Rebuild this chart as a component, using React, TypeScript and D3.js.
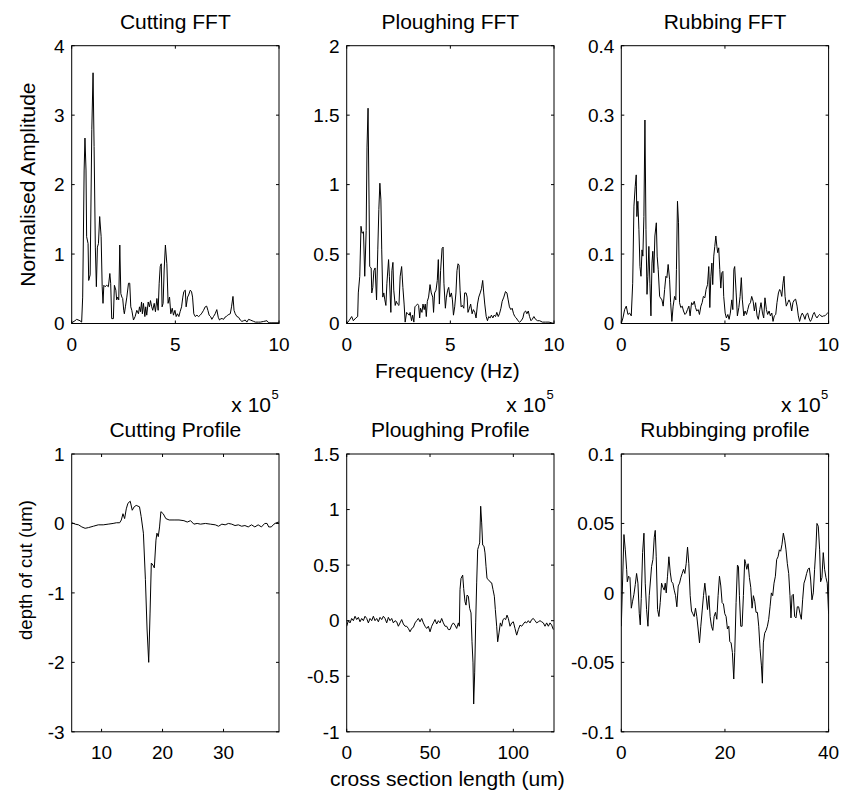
import React from 'react';
import * as d3 from 'd3';

type Pt = [number, number];

// ---------- data ----------
const cuttingFft: Pt[] = [
  [0.00,0.01],[0.16,0.04],[0.24,0.06],[0.40,0.04],[0.48,0.02],[0.53,0.38],[0.60,2.21],[0.64,2.67],[0.69,2.21],[0.72,1.25],
  [0.79,1.15],[0.82,0.62],[0.89,0.70],[0.97,2.79],[1.03,3.61],[1.08,2.55],[1.14,1.10],[1.19,0.53],[1.24,1.10],[1.29,1.15],
  [1.35,1.54],[1.42,1.25],[1.47,0.53],[1.51,0.29],[1.55,0.55],[1.61,0.53],[1.69,0.55],[1.77,0.53],[1.84,0.72],[1.88,0.58],
  [1.93,0.07],[2.01,0.07],[2.06,0.55],[2.13,0.48],[2.17,0.34],[2.22,0.38],[2.27,0.34],[2.32,1.13],[2.37,0.43],[2.42,0.38],
  [2.46,0.36],[2.51,0.19],[2.54,0.14],[2.59,0.24],[2.66,0.38],[2.74,0.58],[2.80,0.58],[2.85,0.24],[2.90,0.19],[2.98,0.05],
  [3.06,0.10],[3.14,0.19],[3.22,0.14],[3.27,0.24],[3.32,0.17],[3.37,0.31],[3.41,0.14],[3.46,0.29],[3.53,0.10],[3.57,0.24],
  [3.62,0.12],[3.69,0.31],[3.75,0.24],[3.80,0.33],[3.86,0.24],[3.91,0.19],[3.98,0.29],[4.04,0.17],[4.11,0.36],[4.17,0.19],
  [4.22,0.58],[4.27,0.82],[4.32,0.86],[4.36,0.24],[4.41,0.29],[4.46,0.77],[4.52,1.13],[4.59,0.86],[4.65,0.29],[4.72,0.38],
  [4.78,0.14],[4.85,0.22],[4.91,0.12],[4.98,0.19],[5.04,0.10],[5.10,0.14],[5.17,0.10],[5.23,0.17],[5.30,0.24],[5.36,0.38],
  [5.41,0.46],[5.48,0.48],[5.52,0.24],[5.59,0.38],[5.64,0.41],[5.72,0.48],[5.78,0.46],[5.83,0.38],[5.89,0.14],[5.96,0.10],
  [6.04,0.12],[6.12,0.10],[6.20,0.12],[6.28,0.15],[6.36,0.19],[6.44,0.24],[6.51,0.25],[6.57,0.19],[6.63,0.12],[6.70,0.10],
  [6.76,0.06],[6.84,0.10],[6.92,0.14],[7.00,0.20],[7.07,0.09],[7.13,0.05],[7.20,0.07],[7.26,0.07],[7.33,0.06],[7.39,0.09],
  [7.46,0.10],[7.52,0.12],[7.58,0.13],[7.65,0.14],[7.71,0.24],[7.78,0.39],[7.83,0.19],[7.89,0.14],[7.97,0.10],[8.05,0.09],
  [8.13,0.05],[8.21,0.03],[8.29,0.04],[8.37,0.05],[8.45,0.02],[8.53,0.06],[8.62,0.05],[8.70,0.04],[8.78,0.03],[8.86,0.02],
  [8.94,0.02],[9.02,0.02],[9.10,0.02],[9.26,0.03],[9.42,0.04],[9.50,0.01],[9.66,0.01],[10.0,0.01],
];

const ploughingFft: Pt[] = [
  [0.00,0.00],[0.11,0.02],[0.24,0.05],[0.32,0.02],[0.44,0.04],[0.53,0.05],[0.56,0.22],[0.63,0.34],[0.69,0.70],[0.74,0.65],
  [0.81,0.66],[0.87,0.34],[0.94,0.67],[0.98,1.27],[1.03,1.55],[1.08,0.86],[1.11,0.41],[1.18,0.40],[1.21,0.22],[1.26,0.26],
  [1.31,0.38],[1.37,0.40],[1.44,0.17],[1.50,0.53],[1.55,0.82],[1.60,1.01],[1.65,0.89],[1.69,0.53],[1.74,0.19],[1.79,0.22],
  [1.84,0.17],[1.89,0.13],[1.94,0.29],[2.02,0.46],[2.06,0.34],[2.13,0.08],[2.18,0.38],[2.23,0.44],[2.27,0.24],[2.34,0.13],
  [2.39,0.16],[2.45,0.14],[2.52,0.13],[2.58,0.34],[2.65,0.41],[2.71,0.26],[2.77,0.14],[2.82,0.01],[2.89,0.08],[2.95,0.07],
  [3.02,0.06],[3.06,0.08],[3.13,0.02],[3.18,0.06],[3.24,0.01],[3.29,0.12],[3.35,0.13],[3.42,0.14],[3.47,0.13],[3.52,0.04],
  [3.56,0.11],[3.63,0.08],[3.68,0.14],[3.74,0.10],[3.79,0.14],[3.84,0.05],[3.89,0.16],[3.95,0.19],[4.02,0.28],[4.08,0.22],
  [4.15,0.19],[4.19,0.08],[4.24,0.22],[4.31,0.24],[4.37,0.31],[4.42,0.46],[4.47,0.14],[4.53,0.38],[4.60,0.54],[4.65,0.55],
  [4.69,0.29],[4.76,0.11],[4.81,0.19],[4.87,0.24],[4.92,0.26],[4.98,0.19],[5.05,0.22],[5.10,0.17],[5.15,0.06],[5.21,0.12],
  [5.27,0.22],[5.32,0.38],[5.37,0.43],[5.42,0.42],[5.47,0.24],[5.52,0.12],[5.58,0.13],[5.65,0.11],[5.69,0.22],[5.76,0.22],
  [5.81,0.19],[5.85,0.08],[5.92,0.11],[5.98,0.14],[6.05,0.07],[6.11,0.10],[6.18,0.08],[6.24,0.04],[6.31,0.14],[6.37,0.19],
  [6.44,0.22],[6.50,0.25],[6.56,0.31],[6.61,0.22],[6.66,0.14],[6.73,0.05],[6.79,0.02],[6.85,0.05],[6.92,0.04],[6.98,0.06],
  [7.05,0.04],[7.11,0.06],[7.18,0.05],[7.24,0.08],[7.31,0.05],[7.37,0.07],[7.44,0.11],[7.50,0.16],[7.58,0.19],[7.66,0.23],
  [7.73,0.22],[7.79,0.17],[7.85,0.12],[7.92,0.10],[7.98,0.11],[8.05,0.07],[8.11,0.05],[8.18,0.04],[8.26,0.02],[8.34,0.01],
  [8.42,0.02],[8.50,0.04],[8.56,0.08],[8.63,0.09],[8.69,0.07],[8.76,0.09],[8.82,0.05],[8.89,0.02],[8.95,0.03],[9.03,0.05],
  [9.11,0.03],[9.21,0.02],[9.31,0.02],[9.44,0.01],[9.60,0.01],[9.76,0.01],[10.0,0.00],
];

const rubbingFft: Pt[] = [
  [0.00,0.000],[0.08,0.008],[0.16,0.020],[0.24,0.025],[0.32,0.013],[0.40,0.015],[0.48,0.011],[0.55,0.058],[0.61,0.169],[0.67,0.197],
  [0.72,0.214],[0.75,0.154],[0.80,0.176],[0.85,0.135],[0.90,0.082],[0.95,0.068],[1.00,0.106],[1.04,0.097],[1.09,0.154],[1.14,0.293],
  [1.19,0.135],[1.24,0.042],[1.28,0.068],[1.33,0.111],[1.38,0.058],[1.43,0.011],[1.48,0.087],[1.52,0.104],[1.57,0.073],[1.62,0.126],
  [1.69,0.145],[1.73,0.097],[1.78,0.078],[1.85,0.039],[1.89,0.037],[1.96,0.034],[2.02,0.025],[2.09,0.049],[2.15,0.068],[2.20,0.066],
  [2.26,0.085],[2.33,0.063],[2.38,0.030],[2.44,0.003],[2.50,0.025],[2.57,0.039],[2.63,0.034],[2.66,0.078],[2.71,0.176],[2.76,0.145],
  [2.81,0.030],[2.87,0.023],[2.94,0.025],[3.00,0.018],[3.07,0.013],[3.13,0.015],[3.19,0.020],[3.26,0.025],[3.32,0.011],[3.39,0.030],
  [3.45,0.027],[3.52,0.032],[3.58,0.023],[3.64,0.018],[3.71,0.020],[3.77,0.013],[3.84,0.025],[3.90,0.030],[3.96,0.039],[4.03,0.037],
  [4.09,0.049],[4.16,0.056],[4.22,0.082],[4.27,0.023],[4.32,0.068],[4.37,0.087],[4.41,0.056],[4.46,0.097],[4.51,0.111],[4.56,0.126],
  [4.61,0.111],[4.65,0.102],[4.70,0.109],[4.75,0.078],[4.80,0.051],[4.85,0.073],[4.90,0.075],[4.94,0.039],[5.01,0.015],[5.07,0.008],
  [5.14,0.013],[5.20,0.006],[5.26,0.015],[5.33,0.034],[5.38,0.020],[5.43,0.078],[5.47,0.082],[5.54,0.044],[5.60,0.011],[5.67,0.023],
  [5.73,0.039],[5.79,0.066],[5.84,0.034],[5.91,0.011],[5.97,0.018],[6.04,0.013],[6.10,0.020],[6.16,0.027],[6.23,0.030],[6.29,0.039],
  [6.36,0.032],[6.42,0.018],[6.48,0.030],[6.55,0.011],[6.61,0.006],[6.68,0.020],[6.74,0.030],[6.81,0.015],[6.87,0.008],[6.93,0.037],
  [7.00,0.020],[7.06,0.013],[7.13,0.018],[7.19,0.011],[7.26,0.015],[7.32,0.003],[7.38,0.011],[7.45,0.013],[7.51,0.030],[7.58,0.044],
  [7.64,0.049],[7.69,0.046],[7.74,0.039],[7.80,0.058],[7.85,0.068],[7.90,0.039],[7.96,0.025],[8.03,0.030],[8.09,0.034],[8.15,0.030],
  [8.22,0.018],[8.28,0.030],[8.35,0.034],[8.41,0.035],[8.48,0.025],[8.54,0.011],[8.60,0.003],[8.67,0.011],[8.73,0.015],[8.80,0.011],
  [8.86,0.006],[8.92,0.013],[8.99,0.015],[9.05,0.008],[9.12,0.003],[9.18,0.006],[9.25,0.013],[9.31,0.016],[9.37,0.011],[9.44,0.008],
  [9.50,0.011],[9.57,0.013],[9.63,0.011],[9.69,0.010],[9.76,0.011],[9.82,0.011],[9.88,0.013],[9.95,0.015],[10.0,0.015],
];

const cuttingProfile: Pt[] = [
  [5.14,0.01],[5.68,-0.01],[6.22,-0.02],[6.76,-0.05],[7.30,-0.07],[7.84,-0.06],[8.65,-0.04],[9.46,-0.02],[10.27,-0.02],[11.08,-0.01],
  [11.89,0.00],[12.43,0.01],[12.97,0.01],[13.24,0.05],[13.51,0.14],[13.78,0.07],[14.05,0.21],[14.32,0.29],[14.70,0.32],[15.03,0.19],
  [15.35,0.24],[15.68,0.26],[16.22,0.24],[16.49,0.10],[16.86,-0.14],[17.19,-0.81],[17.46,-1.52],[17.73,-2.00],[17.95,-1.29],[18.16,-0.57],
  [18.43,-0.60],[18.65,-0.64],[18.92,-0.24],[19.08,-0.14],[19.30,-0.19],[19.51,-0.05],[19.73,0.17],[20.11,0.14],[20.54,0.07],[21.08,0.05],
  [21.89,0.05],[22.70,0.05],[23.51,0.04],[24.05,0.02],[24.59,0.04],[25.14,-0.01],[25.68,0.00],[26.22,-0.01],[27.03,0.00],[27.84,-0.01],
  [28.65,-0.02],[29.19,-0.04],[29.73,-0.01],[30.27,-0.02],[30.81,0.00],[31.35,-0.01],[31.89,-0.03],[32.43,-0.02],[32.97,-0.04],[33.51,-0.03],
  [34.05,-0.05],[34.59,-0.02],[35.14,-0.05],[35.68,-0.02],[36.22,-0.05],[36.76,0.00],[37.14,0.00],[37.41,-0.05],[37.84,-0.05],[38.27,-0.01],
  [38.65,0.01],[39.08,0.02],
];

const ploughingProfile: Pt[] = [
  [0,-0.05],[1,0.00],[2,-0.02],[3,0.02],[4,0.00],[5,0.04],[6,0.01],[7,0.03],[8,-0.01],[9,0.02],
  [10,0.00],[11,0.04],[12,0.02],[13,-0.02],[14,0.02],[15,0.00],[16,0.04],[17,0.00],[18,0.02],[19,-0.01],
  [20,0.03],[21,0.01],[22,0.04],[23,0.02],[24,-0.02],[25,0.03],[26,0.00],[27,0.02],[28,-0.02],[29,0.00],
  [30,-0.01],[31,-0.05],[32,-0.02],[33,0.01],[34,-0.03],[35,-0.05],[36,-0.05],[37,-0.07],[38,-0.10],[39,-0.07],
  [40,-0.06],[41,-0.02],[42,0.00],[43,0.02],[44,-0.01],[45,0.02],[46,-0.02],[47,-0.05],[48,-0.07],[49,-0.05],
  [50,-0.10],[51,-0.05],[52,-0.02],[53,0.01],[54,-0.03],[55,0.00],[56,-0.02],[57,0.02],[58,-0.02],[59,-0.05],
  [60,-0.05],[61,-0.08],[62,-0.08],[63,-0.04],[64,-0.02],[65,-0.04],[66,-0.07],[67,-0.02],[67.6,-0.05],[68,0.28],
  [68.6,0.38],[69.6,0.41],[70.2,0.29],[71,0.17],[71.6,0.14],[72.2,0.23],[73,0.22],[73.8,0.11],[74.6,0.07],[75.2,-0.19],
  [75.8,-0.38],[76.2,-0.75],[76.8,-0.47],[77.4,-0.02],[78,0.34],[78.6,0.64],[79.2,0.67],[79.8,0.70],[80.4,1.03],[81,0.88],
  [81.6,0.68],[82.4,0.67],[83,0.61],[83.6,0.49],[84.2,0.38],[85,0.37],[86,0.35],[87,0.34],[87.8,0.28],[88.6,0.22],
  [89.2,0.10],[90,-0.05],[90.6,-0.19],[91.4,-0.11],[92.2,-0.02],[93,-0.05],[93.8,0.01],[94.6,0.02],[95.4,0.01],[96.2,0.05],
  [97,0.02],[98,-0.05],[99,-0.02],[100,-0.01],[101,-0.07],[102,-0.13],[103,-0.08],[104,-0.04],[105,-0.05],[106,-0.03],
  [107,-0.01],[108,-0.02],[109,0.00],[110,-0.02],[111,0.01],[112,0.02],[113,0.00],[114,-0.02],[115,-0.01],[116,0.00],
  [117,-0.01],[118,-0.02],[119,-0.05],[120,-0.02],[121,-0.05],[122,-0.02],[123,-0.04],[124,-0.08],
];

const rubbingProfile: Pt[] = [
  [0.00,-0.024],[0.26,0.010],[0.51,0.042],[0.77,0.031],[1.03,0.017],[1.16,0.008],[1.41,0.012],[1.67,0.011],[1.93,-0.011],[2.18,-0.006],
  [2.44,-0.001],[2.70,0.006],[2.95,0.014],[3.21,0.007],[3.47,-0.015],[3.66,-0.023],[3.85,-0.004],[4.11,0.029],[4.37,0.043],[4.62,0.007],
  [4.88,-0.012],[5.14,-0.024],[5.39,-0.002],[5.65,0.010],[5.84,0.019],[6.10,0.024],[6.36,0.040],[6.55,0.045],[6.74,0.026],[7.00,-0.012],
  [7.26,-0.017],[7.51,-0.007],[7.77,0.007],[8.03,0.004],[8.28,0.002],[8.48,0.007],[8.67,0.000],[8.92,0.012],[9.18,0.026],[9.44,0.015],
  [9.70,0.008],[9.95,0.007],[10.21,0.002],[10.47,-0.002],[10.72,-0.010],[10.98,0.005],[11.24,0.007],[11.49,0.011],[11.75,0.014],[12.01,0.017],
  [12.26,0.014],[12.52,0.021],[12.78,0.033],[13.03,0.021],[13.29,-0.002],[13.55,-0.013],[13.80,-0.015],[14.06,-0.017],[14.32,-0.011],[14.57,-0.017],
  [14.83,-0.026],[15.09,-0.036],[15.34,-0.024],[15.60,-0.013],[15.86,-0.002],[16.12,0.007],[16.37,-0.002],[16.63,-0.012],[16.89,-0.002],[17.14,-0.017],
  [17.40,-0.024],[17.66,-0.027],[17.91,-0.017],[18.17,-0.014],[18.43,-0.019],[18.68,-0.002],[18.94,0.012],[19.20,0.005],[19.45,-0.007],[19.71,-0.008],
  [19.97,-0.015],[20.22,-0.017],[20.48,-0.026],[20.74,-0.024],[20.93,-0.035],[21.19,-0.036],[21.44,-0.043],[21.70,-0.062],[21.89,-0.043],[22.15,-0.007],
  [22.41,0.020],[22.60,0.019],[22.79,-0.002],[23.05,-0.024],[23.31,-0.024],[23.56,-0.002],[23.82,0.024],[24.01,0.021],[24.21,0.017],[24.47,0.021],
  [24.72,0.011],[24.98,0.004],[25.23,-0.011],[25.49,-0.002],[25.75,-0.006],[26.00,-0.014],[26.26,-0.014],[26.52,-0.024],[26.77,-0.040],[27.03,-0.052],
  [27.22,-0.065],[27.41,-0.036],[27.67,-0.029],[27.93,-0.027],[28.19,-0.024],[28.44,-0.019],[28.70,-0.010],[28.96,0.000],[29.21,-0.002],[29.47,0.007],
  [29.73,0.012],[29.98,0.024],[30.24,0.026],[30.50,0.031],[30.75,0.030],[31.01,0.035],[31.27,0.043],[31.53,0.038],[31.78,0.031],[32.04,0.021],
  [32.30,0.014],[32.55,-0.002],[32.74,-0.018],[32.94,-0.002],[33.19,-0.001],[33.45,-0.017],[33.71,-0.018],[33.96,-0.010],[34.22,-0.010],[34.48,-0.015],
  [34.74,-0.019],[34.99,-0.005],[35.25,0.007],[35.51,0.010],[35.76,0.014],[36.02,0.017],[36.28,0.018],[36.53,0.010],[36.79,-0.005],[37.05,0.000],
  [37.30,0.017],[37.56,0.033],[37.75,0.050],[38.01,0.048],[38.27,0.031],[38.46,0.008],[38.72,0.011],[38.97,0.029],[39.23,0.017],[39.49,0.011],
  [39.74,0.007],[40.00,-0.015],
];

const titles = ['Cutting FFT', 'Ploughing FFT', 'Rubbing FFT', 'Cutting Profile', 'Ploughing Profile', 'Rubbinging profile'];
const fftXTicks = [0, 5, 10];
const cuttingFftYTicks = [0, 1, 2, 3, 4];
const ploughingFftYTicks = [0, 0.5, 1, 1.5, 2];
const rubbingFftYTicks = [0, 0.1, 0.2, 0.3, 0.4];
const cuttingProfXTicks = [10, 20, 30];
const cuttingProfYTicks = [-3, -2, -1, 0, 1];
const ploughingProfXTicks = [0, 50, 100];
const ploughingProfYTicks = [-1, -0.5, 0, 0.5, 1, 1.5];
const rubbingProfXTicks = [0, 20, 40];
const rubbingProfYTicks = [-0.1, -0.05, 0, 0.05, 0.1];

const xLabelTop = 'Frequency (Hz)';
const yLabelTop = 'Normalised Amplitude';
const xLabelBottom = 'cross section length (um)';
const yLabelBottom = 'depth of cut (um)';

// ---------- layout ----------
const COL_LEFT = [71.7, 346.7, 621.3];
const PW = 207.3;
const ROW_TOP = [45.7, 454];
const PH = 277.8;
const FONT = '"Liberation Sans", Arial, Helvetica, sans-serif';
const TICK_FS = 19;
const LABEL_FS = 21;
const TICK_LEN = 3;

interface Spec {
  title: string;
  data: Pt[];
  xDomain: [number, number];
  yDomain: [number, number];
  xTicks: number[];
  yTicks: number[];
  col: number;
  row: number;
  exponent?: boolean;
}

const specs: Spec[] = [
  { title: titles[0], data: cuttingFft, xDomain: [0, 10], yDomain: [0, 4], xTicks: fftXTicks, yTicks: cuttingFftYTicks, col: 0, row: 0 },
  { title: titles[1], data: ploughingFft, xDomain: [0, 10], yDomain: [0, 2], xTicks: fftXTicks, yTicks: ploughingFftYTicks, col: 1, row: 0 },
  { title: titles[2], data: rubbingFft, xDomain: [0, 10], yDomain: [0, 0.4], xTicks: fftXTicks, yTicks: rubbingFftYTicks, col: 2, row: 0 },
  { title: titles[3], data: cuttingProfile, xDomain: [5.1, 39.1], yDomain: [-3, 1], xTicks: cuttingProfXTicks, yTicks: cuttingProfYTicks, col: 0, row: 1, exponent: true },
  { title: titles[4], data: ploughingProfile, xDomain: [0, 124.4], yDomain: [-1, 1.5], xTicks: ploughingProfXTicks, yTicks: ploughingProfYTicks, col: 1, row: 1, exponent: true },
  { title: titles[5], data: rubbingProfile, xDomain: [0, 40], yDomain: [-0.1, 0.1], xTicks: rubbingProfXTicks, yTicks: rubbingProfYTicks, col: 2, row: 1, exponent: true },
];

function Panel({ spec, idx }: { spec: Spec; idx: number }) {
  const x0 = COL_LEFT[spec.col];
  const y0 = ROW_TOP[spec.row];
  const xs = d3.scaleLinear().domain(spec.xDomain).range([x0, x0 + PW]);
  const ys = d3.scaleLinear().domain(spec.yDomain).range([y0 + PH, y0]);
  const line = d3.line<Pt>().x(d => xs(d[0])).y(d => ys(d[1]));
  const clipId = `clip${idx}`;
  return (
    <g>
      <defs>
        <clipPath id={clipId}>
          <rect x={x0} y={y0} width={PW} height={PH} />
        </clipPath>
      </defs>
      <rect x={x0} y={y0} width={PW} height={PH} fill="#fff" stroke="none" />
      <path d={line(spec.data) || ''} fill="none" stroke="#000" strokeWidth={1} clipPath={`url(#${clipId})`} strokeLinejoin="round" />
      <rect x={x0} y={y0} width={PW} height={PH} fill="none" stroke="#000" strokeWidth={1} />
      {spec.xTicks.map(t => (
        <g key={'x' + t}>
          <line x1={xs(t)} x2={xs(t)} y1={y0 + PH} y2={y0 + PH - TICK_LEN} stroke="#000" />
          <line x1={xs(t)} x2={xs(t)} y1={y0} y2={y0 + TICK_LEN} stroke="#000" />
          <text x={xs(t)} y={y0 + PH + 27.4} textAnchor="middle" fontSize={TICK_FS} fontFamily={FONT} fill="#000">{String(t)}</text>
        </g>
      ))}
      {spec.yTicks.map(t => (
        <g key={'y' + t}>
          <line x1={x0} x2={x0 + TICK_LEN} y1={ys(t)} y2={ys(t)} stroke="#000" />
          <line x1={x0 + PW} x2={x0 + PW - TICK_LEN} y1={ys(t)} y2={ys(t)} stroke="#000" />
          <text x={x0 - 7} y={ys(t) + 6.8} textAnchor="end" fontSize={TICK_FS} fontFamily={FONT} fill="#000">{String(t)}</text>
        </g>
      ))}
      <text x={x0 + PW / 2} y={y0 - 17.2} textAnchor="middle" fontSize={LABEL_FS} fontFamily={FONT} fill="#000">{spec.title}</text>
      {spec.exponent && (
        <g>
          <text x={x0 + PW - 8} y={y0 - 42.5} textAnchor="end" fontSize={LABEL_FS} fontFamily={FONT} fill="#000">x 10</text>
          <text x={x0 + PW - 7.5} y={y0 - 55} textAnchor="start" fontSize={13} fontFamily={FONT} fill="#000">5</text>
        </g>
      )}
    </g>
  );
}

export default function App() {
  const midX = COL_LEFT[1] + PW / 2 - 3;
  return (
    <svg width={856} height={793} style={{ position: 'absolute', left: 0, top: 0, background: '#fff' }}>
      <rect x={0} y={0} width={856} height={793} fill="#fff" />
      {specs.map((s, i) => <Panel key={i} spec={s} idx={i} />)}
      <text x={midX} y={378.3} textAnchor="middle" fontSize={LABEL_FS} fontFamily={FONT} fill="#000">{xLabelTop}</text>
      <text x={midX} y={785.5} textAnchor="middle" fontSize={LABEL_FS} fontFamily={FONT} fill="#000">{xLabelBottom}</text>
      <text transform={`translate(35,${ROW_TOP[0] + PH / 2}) rotate(-90)`} textAnchor="middle" fontSize={LABEL_FS} fontFamily={FONT} fill="#000">{yLabelTop}</text>
      <text transform={`translate(32,570) rotate(-90)`} textAnchor="middle" fontSize={18.5} fontFamily={FONT} fill="#000">{yLabelBottom}</text>
    </svg>
  );
}
